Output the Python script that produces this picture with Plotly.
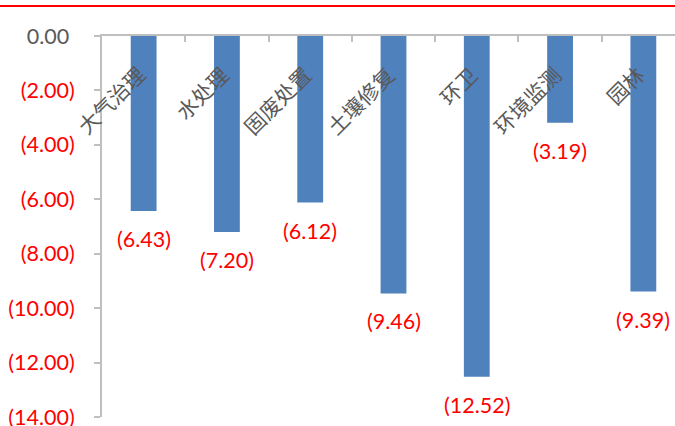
import plotly.graph_objects as go

# Segment names and their values (negative changes)
categories = ["大气治理", "水处理", "固废处置", "土壤修复", "环卫", "环境监测", "园林"]
values = [-6.43, -7.20, -6.12, -9.46, -12.52, -3.19, -9.39]
y_ticks = [0, -2, -4, -6, -8, -10, -12, -14]

BAR_COLOR = "#4f81bd"
RED = "#ff0000"
GRAY_TEXT = "#595959"
AXIS_GRAY = "#bfbfbf"
NUM_FONT = "Lato, Carlito, Calibri, sans-serif"
CJK_FONT = "Noto Sans CJK SC, sans-serif"


def acct(v):
    """Accounting-style number: negatives in parentheses."""
    if v < 0:
        return f"({abs(v):.2f})"
    return f"{v:.2f}\u00a0"


def tick_label(v):
    if v < 0:
        return f"<span style='color:{RED}'>{acct(v)}</span>"
    return acct(v)


fig = go.Figure(
    go.Bar(
        x=categories,
        y=values,
        marker=dict(color=BAR_COLOR, line=dict(width=0)),
        width=0.31,
        hoverinfo="skip",
    )
)

annotations = []
# value labels under each bar end
for cat, v in zip(categories, values):
    annotations.append(dict(
        x=cat, y=v, xref="x", yref="y",
        text=acct(v), showarrow=False,
        xanchor="center", yanchor="middle", yshift=-28,
        font=dict(family=NUM_FONT, size=21.5, color=RED),
    ))
# slanted category names hanging from the zero line
for cat in categories:
    annotations.append(dict(
        x=cat, y=0, xref="x", yref="y",
        text=cat, showarrow=False, textangle=-45,
        xanchor="right", yanchor="top", xshift=10, yshift=-21,
        font=dict(family=CJK_FONT, size=21, color=GRAY_TEXT),
    ))

fig.update_layout(
    width=675, height=426,
    margin=dict(l=102, r=0, t=36, b=9, autoexpand=False),
    paper_bgcolor="white", plot_bgcolor="white",
    showlegend=False,
    annotations=annotations,
    shapes=[dict(
        type="line", xref="paper", yref="paper",
        x0=-102 / 573, x1=1, y0=1 + 30 / 381, y1=1 + 30 / 381,
        line=dict(color=RED, width=2),
    )],
)

fig.update_xaxes(
    type="category",
    range=[-0.5, 6.38],
    side="top",
    showline=True, linecolor=AXIS_GRAY, linewidth=2,
    ticks="inside", ticklen=6, tickcolor=AXIS_GRAY, tickwidth=2,
    tickson="boundaries",
    showticklabels=False,
    showgrid=False, zeroline=False,
    automargin=False,
)

fig.update_yaxes(
    range=[-14, 0],
    tickvals=y_ticks,
    ticktext=[tick_label(v) for v in y_ticks],
    tickfont=dict(family=NUM_FONT, size=21.5, color=GRAY_TEXT),
    ticklabeloverflow="allow",
    showline=True, linecolor=AXIS_GRAY, linewidth=2,
    ticks="outside", ticklen=6, tickcolor=AXIS_GRAY, tickwidth=2,
    ticklabelstandoff=15,
    showgrid=False, zeroline=False,
    automargin=False,
)

fig.write_html("out.html")
